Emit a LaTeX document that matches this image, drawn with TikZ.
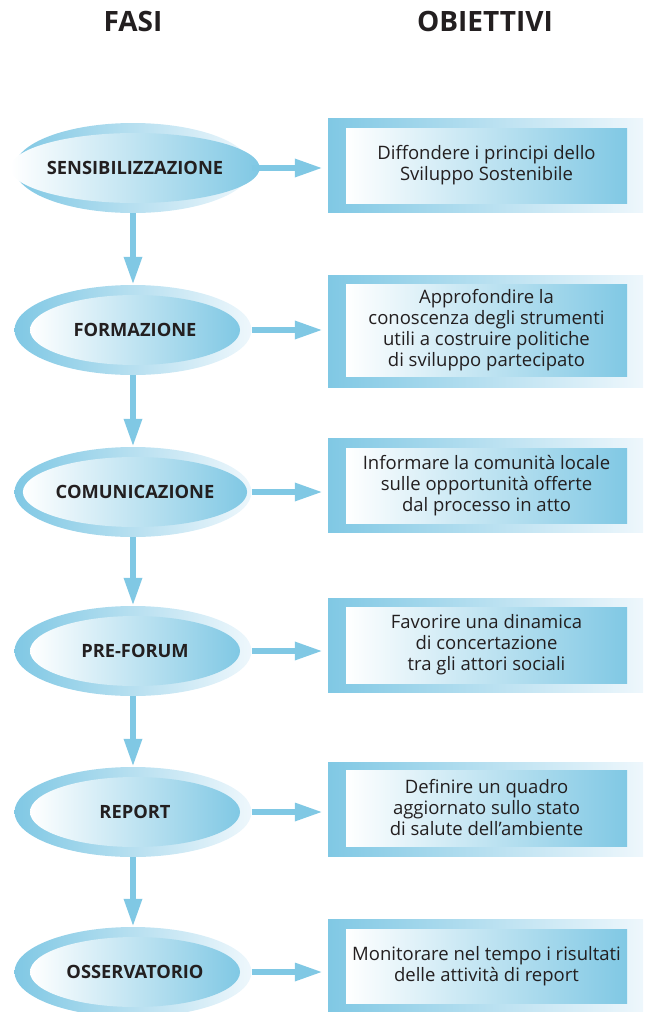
\documentclass[tikz,border=0pt]{standalone}
\usepackage{fontspec}
\setmainfont{Open Sans}
\usetikzlibrary{shapes.geometric,arrows.meta}
\definecolor{sky}{RGB}{128,200,228}
\definecolor{pale}{RGB}{238,247,252}
\definecolor{ink}{RGB}{35,31,32}
\begin{document}
\begin{tikzpicture}[x=1pt,y=-1pt,
 outerell/.style={ellipse, minimum width=237pt, minimum height=90pt, inner sep=0pt, left color=sky, right color=pale},
 innerell/.style={ellipse, minimum width=210pt, minimum height=70pt, inner sep=0pt, left color=white, right color=sky, text=ink, font=\bfseries\fontsize{18.3}{20}\selectfont},
 outerbox/.style={rectangle, minimum width=315pt, inner sep=0pt, left color=sky, right color=pale},
 innerbox/.style={rectangle, minimum width=281pt, inner sep=0pt, left color=white, right color=sky, text=ink, align=center, font=\fontsize{18.5}{21}\selectfont},
 flow/.style={draw=sky, line width=6pt, -{Triangle[width=17pt,length=28pt]}},
 head/.style={text=ink, font=\bfseries\fontsize{28}{30}\selectfont}]
\useasboundingbox (0,0) rectangle (648,1012);
\node[head] (h1) at (133,21) {FASI};
\node[head] (h2) at (485,21) {OBIETTIVI};
% phases
\node[outerell] (o1) at (133,168) {};
\node[innerell] (e1) at (135,168) {SENSIBILIZZAZIONE};
\node[outerell] (o2) at (133,330) {};
\node[innerell] (e2) at (135,330) {FORMAZIONE};
\node[outerell] (o3) at (133,492) {};
\node[innerell] (e3) at (135,492) {COMUNICAZIONE};
\node[outerell] (o4) at (133,651) {};
\node[innerell] (e4) at (135,651) {PRE-FORUM};
\node[outerell] (o5) at (133,812) {};
\node[innerell] (e5) at (135,812) {REPORT};
\node[outerell] (o6) at (133,972) {};
\node[innerell] (e6) at (135,972) {OSSERVATORIO};
% goals
\node[outerbox, minimum height=94pt] (b1) at (485.5,165) {};
\node[innerbox, minimum height=75pt] (t1) at (486.5,165.5) {Diffondere i principi dello\\Sviluppo Sostenibile};
\node[outerbox, minimum height=112pt] (b2) at (485.5,331) {};
\node[innerbox, minimum height=92pt] (t2) at (486.5,330) {Approfondire la\\conoscenza degli strumenti\\utili a costruire politiche\\di sviluppo partecipato};
\node[outerbox, minimum height=94pt] (b3) at (485.5,485) {};
\node[innerbox, minimum height=75pt] (t3) at (486.5,485.5) {Informare la comunità locale\\sulle opportunità offerte\\dal processo in atto};
\node[outerbox, minimum height=94pt] (b4) at (485.5,645) {};
\node[innerbox, minimum height=76pt] (t4) at (486.5,645) {Favorire una dinamica\\di concertazione\\tra gli attori sociali};
\node[outerbox, minimum height=94pt] (b5) at (485.5,809) {};
\node[innerbox, minimum height=76pt] (t5) at (486.5,808) {Definire un quadro\\aggiornato sullo stato\\di salute dell’ambiente};
\node[outerbox, minimum height=92pt] (b6) at (485.5,965) {};
\node[innerbox, minimum height=74pt] (t6) at (486.5,966) {Monitorare nel tempo i risultati\\delle attività di report};
% vertical arrows
\draw[flow] (o1.south) -- (o2.north);
\draw[flow] (o2.south) -- (o3.north);
\draw[flow] (o3.south) -- (o4.north);
\draw[flow] (o4.south) -- (o5.north);
\draw[flow] (o5.south) -- (o6.north);
% horizontal arrows
\foreach \i in {1,...,6}{
  \draw[flow, shorten >=5pt] (o\i.east) -- (o\i.east -| b\i.west);
}
\end{tikzpicture}
\end{document}
